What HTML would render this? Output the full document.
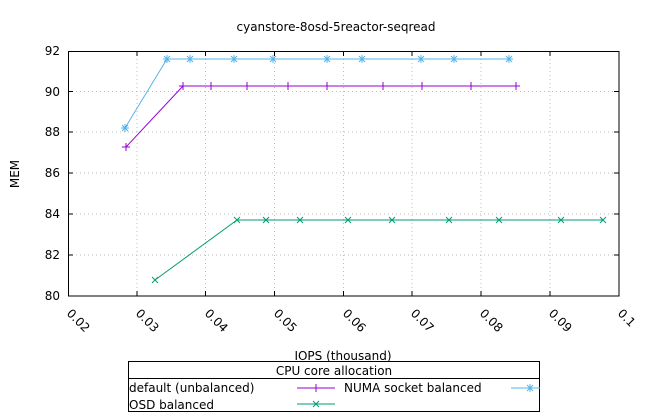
<!DOCTYPE html>
<html><head><style>body{margin:0;background:#fff}svg{display:block}text{font-family:"DejaVu Sans","Liberation Sans",sans-serif;font-size:12px;fill:#000}</style></head><body>
<svg width="650" height="420" xmlns="http://www.w3.org/2000/svg">
<defs>
<g id="plus"><path d="M-4 0H4M0 -4V4" stroke="#9400d3" stroke-width="1"/></g>
<g id="star"><path d="M-4 0H4M0 -4V4M-3 -3L3 3M-3 3L3 -3" stroke="#56b4e9" stroke-width="1"/></g>
<g id="cross"><path d="M-3 -3L3 3M-3 3L3 -3" stroke="#009e73" stroke-width="1"/></g>
</defs>
<text x="336" y="31" text-anchor="middle">cyanstore-8osd-5reactor-seqread</text>
<g stroke="#bbb" stroke-dasharray="1,3" stroke-width="1">
<path d="M68 255H619M68 214H619M68 173H619M68 132H619M68 91.5H619"/>
<path d="M137 51V296M205.5 51V296M274.5 51V296M343.5 51V296M412 51V296M481 51V296M550 51V296"/>
</g>
<rect x="68.5" y="51.5" width="550.5" height="244.5" fill="none" stroke="#000"/>
<g stroke="#000"><path d="M68 255h5M68 214h5M68 173h5M68 132h5M68 91.5h5M619 255h-5M619 214h-5M619 173h-5M619 132h-5M619 91.5h-5"/>
<path d="M137 296v-5M205.5 296v-5M274.5 296v-5M343.5 296v-5M412 296v-5M481 296v-5M550 296v-5M137 51v5M205.5 51v5M274.5 51v5M343.5 51v5M412 51v5M481 51v5M550 51v5"/></g>
<g text-anchor="end">
<text x="60" y="300">80</text><text x="60" y="259">82</text><text x="60" y="218">84</text><text x="60" y="177">86</text><text x="60" y="136">88</text><text x="60" y="96">90</text><text x="60" y="55">92</text>
</g>
<g>
<text transform="translate(66,314) rotate(45)">0.02</text>
<text transform="translate(135,314) rotate(45)">0.03</text>
<text transform="translate(204,314) rotate(45)">0.04</text>
<text transform="translate(273,314) rotate(45)">0.05</text>
<text transform="translate(342,314) rotate(45)">0.06</text>
<text transform="translate(410,314) rotate(45)">0.07</text>
<text transform="translate(479,314) rotate(45)">0.08</text>
<text transform="translate(548,314) rotate(45)">0.09</text>
<text transform="translate(617,314) rotate(45)">0.1</text>
</g>
<text transform="translate(19,174) rotate(-90)" text-anchor="middle">MEM</text>
<text x="343" y="360" text-anchor="middle">IOPS (thousand)</text>
<polyline fill="none" stroke="#9400d3" points="126,147 183,86 211,86 247,86 288,86 327,86 383,86 422,86 471,86 516,86"/>
<polyline fill="none" stroke="#56b4e9" points="125,128 167,59 190,59 234,59 273,59 327,59 362,59 421,59 454,59 509,59"/>
<polyline fill="none" stroke="#009e73" points="155,280 237,220 266,220 300,220 348,220 392,220 449,220 499,220 561,220 603,220"/>
<g>
<use href="#plus" x="126" y="147"/><use href="#plus" x="183" y="86"/><use href="#plus" x="211" y="86"/><use href="#plus" x="247" y="86"/><use href="#plus" x="288" y="86"/><use href="#plus" x="327" y="86"/><use href="#plus" x="383" y="86"/><use href="#plus" x="422" y="86"/><use href="#plus" x="471" y="86"/><use href="#plus" x="516" y="86"/>
<use href="#star" x="125" y="128"/><use href="#star" x="167" y="59"/><use href="#star" x="190" y="59"/><use href="#star" x="234" y="59"/><use href="#star" x="273" y="59"/><use href="#star" x="327" y="59"/><use href="#star" x="362" y="59"/><use href="#star" x="421" y="59"/><use href="#star" x="454" y="59"/><use href="#star" x="509" y="59"/>
<use href="#cross" x="155" y="280"/><use href="#cross" x="237" y="220"/><use href="#cross" x="266" y="220"/><use href="#cross" x="300" y="220"/><use href="#cross" x="348" y="220"/><use href="#cross" x="392" y="220"/><use href="#cross" x="449" y="220"/><use href="#cross" x="499" y="220"/><use href="#cross" x="561" y="220"/><use href="#cross" x="603" y="220"/>
</g>
<rect x="128.5" y="361.5" width="411" height="50" fill="#fff" stroke="#000"/>
<path d="M128.5 378.5H539.5" stroke="#000"/>
<text x="334" y="375" text-anchor="middle">CPU core allocation</text>
<text x="129" y="392">default (unbalanced)</text>
<text x="344" y="392">NUMA socket balanced</text>
<text x="129" y="409">OSD balanced</text>
<path d="M297 388H335" stroke="#9400d3"/><use href="#plus" x="316" y="388"/>
<path d="M511 388H540" stroke="#56b4e9"/><use href="#star" x="530" y="388"/>
<path d="M297 404H335" stroke="#009e73"/><use href="#cross" x="316" y="404"/>
</svg>
</body></html>
